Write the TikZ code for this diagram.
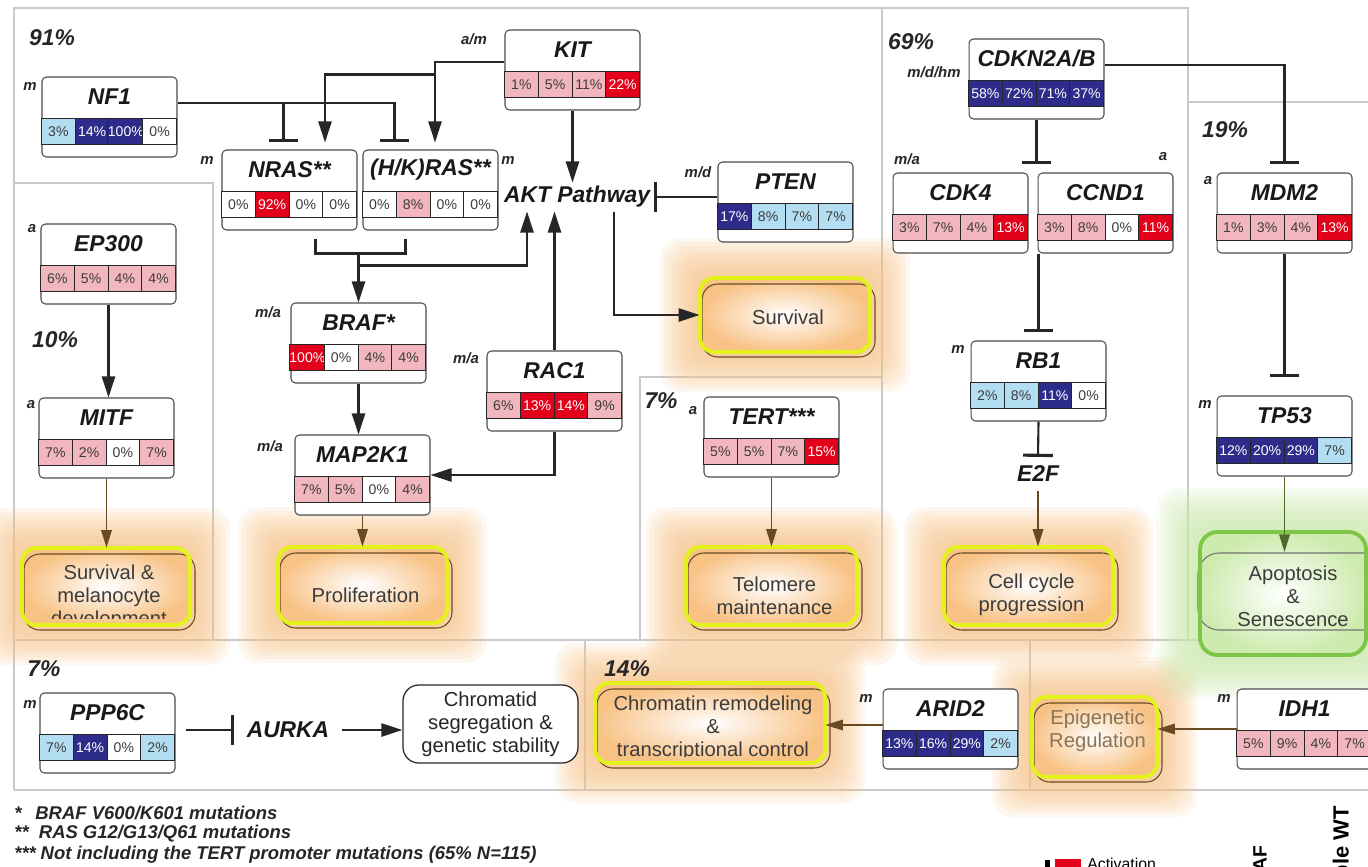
\documentclass[tikz,border=0pt]{standalone}
\usepackage{fontspec}
\setmainfont{Liberation Sans}
\usetikzlibrary{arrows.meta,fit}

\definecolor{pk}{HTML}{F1B6BE}
\definecolor{rd}{HTML}{E2001A}
\definecolor{nv}{HTML}{2E2C8A}
\definecolor{lb}{HTML}{B3DEF1}
\definecolor{wt}{HTML}{FFFFFF}
\definecolor{txt}{HTML}{3C3C3C}
\colorlet{pkT}{txt}
\colorlet{rdT}{white}
\colorlet{nvT}{white}
\colorlet{lbT}{txt}
\colorlet{wtT}{txt}
\definecolor{panelgray}{HTML}{C9C9C9}
\definecolor{glow}{HTML}{F8C285}
\definecolor{glowgreen}{HTML}{CDEBAE}
\definecolor{ring}{HTML}{E4F21C}
\definecolor{ringgreen}{HTML}{7EC646}
\definecolor{brn}{HTML}{6A4A22}
\definecolor{grn}{HTML}{4F6A2A}
\definecolor{epitxt}{HTML}{8A7456}

\tikzset{
  genebox/.style={draw=black!70, line width=0.6pt, rounded corners=2.5pt, fill=white, minimum width=2.7cm, minimum height=1.6cm, inner sep=0pt},
  genename/.style={font=\fontsize{13}{13}\selectfont\bfseries\itshape, text=black!90, inner sep=0pt},
  cellbox/.style={draw=black!85, line width=0.5pt, minimum width=0.675cm, minimum height=0.52cm, inner sep=0pt, font=\fontsize{8}{8}\selectfont},
  mutlab/.style={font=\fontsize{8.5}{9}\selectfont\bfseries\itshape, text=black!85, inner sep=0pt},
  freq/.style={font=\fontsize{13}{13}\selectfont\bfseries\itshape, text=black!85, inner sep=0pt},
  hub/.style={font=\fontsize{13}{13}\selectfont\bfseries\itshape, text=black!90, inner sep=2pt},
  outtext/.style={font=\fontsize{11.5}{13}\selectfont, text=txt, align=center, inner sep=0pt},
  note/.style={font=\fontsize{10.5}{11}\selectfont\bfseries\itshape, text=black!85, anchor=west, inner sep=0pt},
  legtxt/.style={font=\fontsize{11}{11}\selectfont\bfseries, inner sep=0pt},
  panel/.style={draw=panelgray, line width=0.7pt},
  link/.style={line width=1.2pt, draw=black!85},
  act/.style={link, -{Triangle[length=12pt,width=7.5pt]}},
  inh/.style={link, -{Bar[width=17pt,line width=1.8pt]}},
  bract/.style={line width=0.9pt, draw=brn, -{Triangle[length=10pt,width=6pt]}},
  gract/.style={line width=0.9pt, draw=grn, -{Triangle[length=10pt,width=6pt]}},
}

\newcommand{\genebox}[4]{%
  \node[genebox] (#1) at (#2) {};
  \node[genename] (#1-name) at ([shift={(0,20)}]#1.north) {#3};
  \foreach \cl/\pc [count=\i from 0] in {#4}
    \node[cellbox, fill=\cl, text=\cl T] (#1-c\i) at ([shift={(\i*33.75+16.875,55)}]#1.north west) {\pc};
}

\newcommand{\outcome}[7]{%
  \foreach \g in {40,36,...,4}
    \fill[glow, opacity=0.13, rounded corners=12pt] ({#2-\g},{#3-\g}) rectangle ({#4+\g},{#5+\g});
  \shade[rounded corners=7pt, inner color=white, outer color=glow] (#2,#3) rectangle (#4,#5);
  \draw[brn, line width=0.6pt, rounded corners=9pt] ({#2+2},{#3+6}) rectangle ({#4+5},{#5+5});
  \draw[ring, line width=2.2pt, rounded corners=8pt] (#2,#3) rectangle (#4,#5);
  \node[fit={(#2,#3) (#4,#5)}, inner sep=0pt] (#1) {};
  \begin{scope}
    \clip (#2,#3) rectangle (#4,{#5-7});
    \node[outtext] (#1-txt) at ({(#2+#4)/2+3},#6) {#7};
  \end{scope}
}

\begin{document}
\begin{tikzpicture}[x=0.02cm, y=-0.02cm]
\useasboundingbox (0,0) rectangle (1368,866);
\fill[white] (0,0) rectangle (1368,866);

\draw[panel] (14,790) -- (14,8) -- (1188,8) -- (1188,640);
\draw[panel] (14,640) -- (1368,640);
\draw[panel] (14,790) -- (1368,790);
\draw[panel] (585,640) -- (585,790);
\draw[panel] (1030,640) -- (1030,790);
\draw[panel] (14,183) -- (213,183) -- (213,640);
\draw[panel] (882,8) -- (882,640);
\draw[panel] (640,640) -- (640,377) -- (882,377);
\draw[panel] (1188,102) -- (1368,102);

\outcome{survival}{700}{278}{870}{352}{317}{Survival}
\outcome{survmel}{22}{548}{190}{625}{597}{Survival \&\\melanocyte\\development}
\outcome{prolif}{278}{547}{447}{623}{595}{Proliferation}
\outcome{telomere}{686}{547}{857}{625}{596}{Telomere\\maintenance}
\outcome{cellcyc}{944}{547}{1113}{625}{595}{Cell cycle\\progression}
\outcome{chromatin}{595}{683}{825}{763}{728}{Chromatin remodeling\\\&\\transcriptional control}
\outcome{epigen}{1032}{697}{1157}{777}{731}{{\color{epitxt}Epigenetic}\\{\color{epitxt}Regulation}}

\foreach \g in {44,40,...,4}
  \fill[glowgreen, opacity=0.13, rounded corners=12pt] ({1200-\g},{532-\g}) rectangle ({1366+\g},{655+\g});
\shade[rounded corners=7pt, inner color=white, outer color=glowgreen] (1200,532) rectangle (1366,655);
\draw[black!55, line width=0.6pt, rounded corners=12pt] (1198,553) rectangle (1392,630);
\draw[ringgreen, line width=2.2pt, rounded corners=10pt] (1200,532) rectangle (1366,655);
\node[fit={(1200,532) (1366,655)}, inner sep=0pt] (apopt) {};
\node[outtext] (apopt-txt) at (1293,596) {Apoptosis\\\&\\Senescence};
\coordinate (apopt-in) at (1285,552);

\node[outtext, draw=black!85, line width=0.7pt, rounded corners=9pt, fill=white, minimum width=3.5cm, minimum height=1.56cm, text=black!85] (chromatid) at (490.5,724) {Chromatid\\segregation \&\\genetic stability};

\genebox{nf1}{109.5,117}{NF1}{lb/3\%,nv/14\%,nv/100\%,wt/0\%}
\genebox{nras}{289.5,190}{NRAS**}{wt/0\%,rd/92\%,wt/0\%,wt/0\%}
\genebox{hkras}{430.5,190}{(H/K)RAS**}{wt/0\%,pk/8\%,wt/0\%,wt/0\%}
\genebox{kit}{572.5,70}{KIT}{pk/1\%,pk/5\%,pk/11\%,rd/22\%}
\genebox{pten}{785.5,202}{PTEN}{nv/17\%,lb/8\%,lb/7\%,lb/7\%}
\genebox{cdkn}{1036.5,79}{CDKN2A/B}{nv/58\%,nv/72\%,nv/71\%,nv/37\%}
\genebox{cdk4}{960.5,213}{CDK4}{pk/3\%,pk/7\%,pk/4\%,rd/13\%}
\genebox{ccnd1}{1105.5,213}{CCND1}{pk/3\%,pk/8\%,wt/0\%,rd/11\%}
\genebox{mdm2}{1284.5,213}{MDM2}{pk/1\%,pk/3\%,pk/4\%,rd/13\%}
\genebox{ep300}{108.5,264}{EP300}{pk/6\%,pk/5\%,pk/4\%,pk/4\%}
\genebox{mitf}{106.5,438}{MITF}{pk/7\%,pk/2\%,wt/0\%,pk/7\%}
\genebox{braf}{358.5,343}{BRAF*}{rd/100\%,wt/0\%,pk/4\%,pk/4\%}
\genebox{map2k1}{362.5,475}{MAP2K1}{pk/7\%,pk/5\%,wt/0\%,pk/4\%}
\genebox{rac1}{554.5,391}{RAC1}{pk/6\%,rd/13\%,rd/14\%,pk/9\%}
\genebox{tert}{771.5,437}{TERT***}{pk/5\%,pk/5\%,pk/7\%,rd/15\%}
\genebox{rb1}{1038.5,381}{RB1}{lb/2\%,lb/8\%,nv/11\%,wt/0\%}
\genebox{tp53}{1284.5,436}{TP53}{nv/12\%,nv/20\%,nv/29\%,lb/7\%}
\genebox{ppp6c}{107.5,733}{PPP6C}{lb/7\%,nv/14\%,wt/0\%,lb/2\%}
\genebox{arid2}{950.5,729}{ARID2}{nv/13\%,nv/16\%,nv/29\%,lb/2\%}
\genebox{idh1}{1304.5,729}{IDH1}{pk/5\%,pk/9\%,pk/4\%,pk/7\%}

\node[mutlab] (nf1-m) at (30,86) {m};
\node[mutlab] (nras-m) at (207,160) {m};
\node[mutlab] (hkras-m) at (508,160) {m};
\node[mutlab] (kit-m) at (474,39) {a/m};
\node[mutlab] (pten-m) at (698,172) {m/d};
\node[mutlab] (cdkn-m) at (934,72) {m/d/hm};
\node[mutlab] (cdk4-m) at (907,159) {m/a};
\node[mutlab] (ccnd1-m) at (1163,157) {a};
\node[mutlab] (mdm2-m) at (1208,181) {a};
\node[mutlab] (ep300-m) at (32,229) {a};
\node[mutlab] (mitf-m) at (31,405) {a};
\node[mutlab] (braf-m) at (268,312) {m/a};
\node[mutlab] (map2k1-m) at (270,446) {m/a};
\node[mutlab] (rac1-m) at (466,358) {m/a};
\node[mutlab] (tert-m) at (693,411) {a};
\node[mutlab] (rb1-m) at (958,349) {m};
\node[mutlab] (tp53-m) at (1205,404) {m};
\node[mutlab] (ppp6c-m) at (30,704) {m};
\node[mutlab] (arid2-m) at (866,698) {m};
\node[mutlab] (idh1-m) at (1224,698) {m};

\node[freq] (f91) at (52,38) {91\%};
\node[freq] (f10) at (55,340) {10\%};
\node[freq] (f69) at (911,42) {69\%};
\node[freq] (f19) at (1225,130) {19\%};
\node[freq] (f7a) at (661,401) {7\%};
\node[freq] (f7b) at (44,669) {7\%};
\node[freq] (f14) at (627,669) {14\%};

\node[hub] (akt) at (577,197) {AKT Pathway};
\node[hub, inner sep=5pt] (e2f) at (1038,474) {E2F};
\node[hub, inner xsep=7pt] (aurka) at (288,730) {AURKA};

\draw[inh] ([shift={(0,-14)}]nf1.east) -| ([shift={(-6,-7)}]nras.north);
\draw[inh] ([shift={(0,-14)}]nf1.east) -| ([shift={(-36,-7)}]hkras.north);
\draw[act] ([shift={(0,-8)}]kit.west) -| ([shift={(4.5,-7)}]hkras.north);
\coordinate (kitsplit) at ([shift={(4.5,-75)}]hkras.north);
\draw[act] (kitsplit) -| ([shift={(35.5,-7)}]nras.north);
\draw[act] (kit.south) -- (kit.south |- akt.north);
\draw[inh] (pten.west |- akt.east) -- (akt.east);
\draw[act] ([shift={(37,0)}]akt.south) |- (survival.west);
\draw[link] ([shift={(26,8)}]nras.south) -- ++(0,15) -| ([shift={(-25,8)}]hkras.south);
\coordinate (rasjoin) at ([shift={(0,-50)}]braf.north);
\draw[act] (rasjoin) -- (braf.north);
\draw[act] ([shift={(0,13)}]rasjoin) -| ([shift={(-50,0)}]akt.south);
\draw[act] (rac1.north) -- (rac1.north |- akt.south);
\draw[act] (rac1.south) |- (map2k1.east);
\draw[act] (braf.south) -- (braf.south |- map2k1.north);
\draw[bract] (map2k1.south) -- (map2k1.south |- prolif.north);
\draw[act] (ep300.south) -- (ep300.south |- mitf.north);
\draw[bract] (mitf.south) -- (mitf.south |- survmel.north);
\draw[bract] (tert.south) -- (tert.south |- telomere.north);
\coordinate (cdkbar) at ([shift={(0,-8)}]cdk4.north);
\draw[inh] (cdkn.south) -- (cdkn.south |- cdkbar);
\draw[inh] ([shift={(0,-14)}]cdkn.east) -| ([shift={(0,-8)}]mdm2.north);
\draw[inh] (rb1.north |- cdk4.south) -- ([shift={(0,-8)}]rb1.north);
\draw[inh] (rb1.south) -- (e2f.north);
\draw[bract] (e2f.south) -- (e2f.south |- cellcyc.north);
\draw[inh] (mdm2.south) -- ([shift={(0,-18)}]tp53.north);
\draw[gract] (tp53.south) -- (tp53.south |- apopt-in);
\coordinate (ppp6c-out) at ([shift={(10,-3)}]ppp6c.east);
\draw[inh] (ppp6c-out) -- (ppp6c-out -| aurka.west);
\draw[act] (aurka.east) -- (aurka.east -| chromatid.west);
\coordinate (arid2-out) at ([shift={(0,-4)}]arid2.west);
\draw[bract] (arid2-out) -- (arid2-out -| chromatin.east);
\draw[bract] (idh1.west) -- (idh1.west -| epigen.east);

\node[note] (fn1) at (14,813) {\makebox[12pt][l]{*}BRAF V600/K601 mutations};
\node[note] (fn2) at (14,834) {\makebox[14pt][l]{**}RAS G12/G13/Q61 mutations};
\node[note] (fn3) at (14,855) {\makebox[15pt][l]{***}Not including the TERT promoter mutations (65\% N=115)};

\fill[black] (1045,860) rectangle (1050,872);
\fill[rd] (1055,859) rectangle (1081,872);
\node[anchor=north west, inner sep=0pt, font=\fontsize{9}{9}\selectfont] (legact) at (1087,858) {Activation};
\node[legtxt, rotate=90, anchor=east] (legbraf) at (1260,845) {BRAF};
\node[legtxt, rotate=90, anchor=east, font=\fontsize{12.5}{12.5}\selectfont\bfseries] (legwt) at (1343,806) {Triple WT};
\end{tikzpicture}
\end{document}
